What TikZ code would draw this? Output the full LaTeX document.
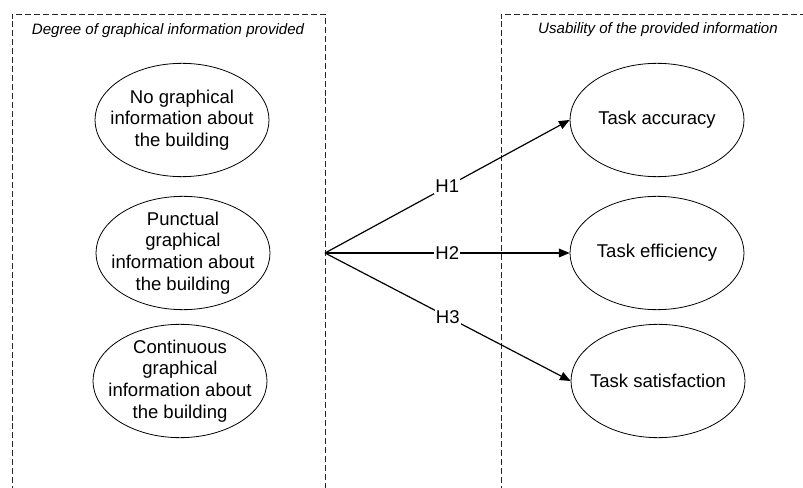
\documentclass[tikz,border=0pt]{standalone}
\usepackage{fontspec}
\setmainfont{Liberation Sans}
\usetikzlibrary{shapes.geometric,arrows.meta}
\begin{document}
\begin{tikzpicture}[x=0.75pt,y=-0.75pt,
  boxline/.style={draw=black!85,line width=0.6pt,dash pattern=on 4.5pt off 2.2pt},
  oval/.style={ellipse,draw,line width=0.6pt,inner sep=0pt,minimum width=130.5pt,minimum height=85pt},
  ovaltext/.style={align=center,inner sep=0pt,font=\fontsize{13.9pt}{16.3pt}\selectfont},
  titletext/.style={font=\fontsize{11.3pt}{13pt}\selectfont\itshape,inner sep=0pt},
  hyp/.style={line width=0.9pt,-{Triangle[length=8pt,width=6.5pt]}},
  hlab/.style={fill=white,inner sep=1pt,font=\fontsize{13.9pt}{16pt}\selectfont}]
\useasboundingbox (0,0) rectangle (803,488);
\draw[boxline] (12,492) -- (12,14) -- (325,14) -- (325,492);
\draw[boxline] (501,492) -- (501,14) -- (806,14);
\node[titletext] (t1) at (168,31) {Degree of graphical information provided};
\node[titletext] (t2) at (658,30) {Usability of the provided information};
\node[oval] (g1) at (182,120) {};
\node[ovaltext] (g1t) at (g1) {No graphical\\information about\\the building};
\node[oval] (g2) at (183,253) {};
\node[ovaltext] (g2t) at (g2) {Punctual\\graphical\\information about\\the building};
\node[oval] (g3) at (180,381) {};
\node[ovaltext] (g3t) at (g3) {Continuous\\graphical\\information about\\the building};
\node[oval] (acc) at (657,120) {};
\node[ovaltext] (acct) at (acc) {Task accuracy};
\node[oval] (eff) at (657,253) {};
\node[ovaltext] (efft) at (eff) {Task efficiency};
\node[oval] (sat) at (658,381) {};
\node[ovaltext] (satt) at (sat) {Task satisfaction};
\coordinate (src) at (325,253);
\draw[hyp] (src) -- node[hlab] {H1} (acc.west);
\draw[hyp] (src) -- node[hlab] {H2} (eff.west);
\draw[hyp] (src) -- node[hlab] {H3} (sat.west);
\end{tikzpicture}
\end{document}
